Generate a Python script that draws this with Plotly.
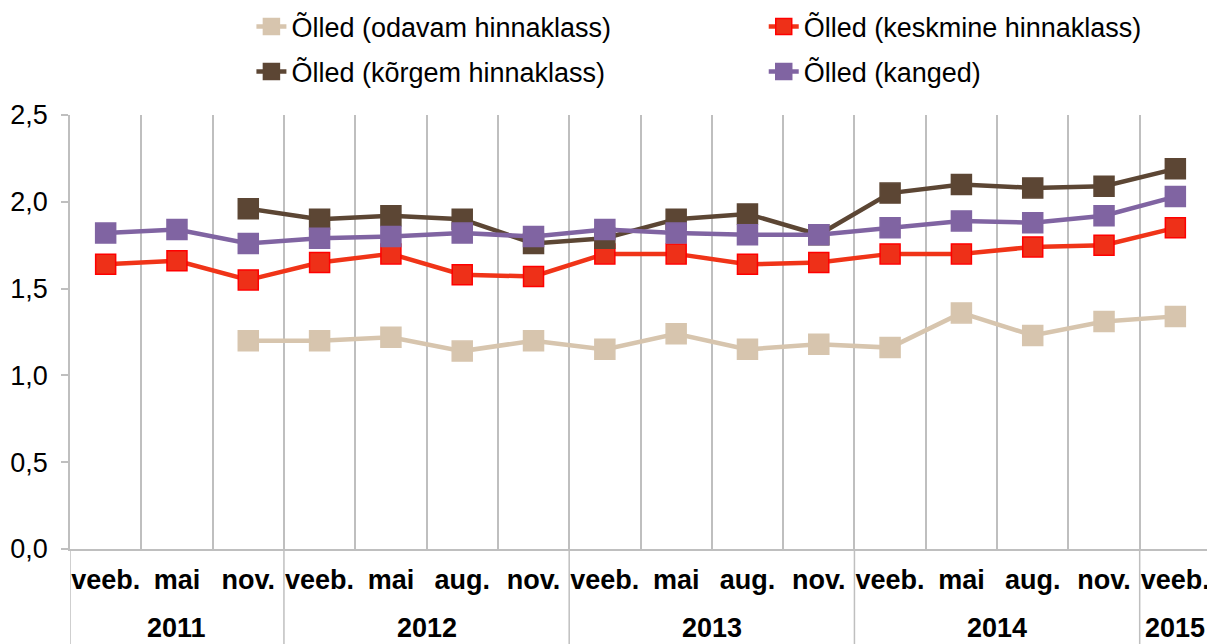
import plotly.graph_objects as go

years = ["2011", "2011", "2011",
         "2012", "2012", "2012", "2012",
         "2013", "2013", "2013", "2013",
         "2014", "2014", "2014", "2014",
         "2015"]
months = ["veeb.", "mai", "nov.",
          "veeb.", "mai", "aug.", "nov.",
          "veeb.", "mai", "aug.", "nov.",
          "veeb.", "mai", "aug.", "nov.",
          "veeb."]

odavam = [None, None, 1.20, 1.20, 1.22, 1.14, 1.20, 1.15, 1.24, 1.15, 1.18, 1.16, 1.36, 1.23, 1.31, 1.34]
keskmine = [1.64, 1.66, 1.55, 1.65, 1.70, 1.58, 1.57, 1.70, 1.70, 1.64, 1.65, 1.70, 1.70, 1.74, 1.75, 1.85]
korgem = [None, None, 1.96, 1.90, 1.92, 1.90, 1.76, 1.79, 1.90, 1.93, 1.81, 2.05, 2.10, 2.08, 2.09, 2.19]
kanged = [1.82, 1.84, 1.76, 1.79, 1.80, 1.82, 1.80, 1.84, 1.82, 1.81, 1.81, 1.85, 1.89, 1.88, 1.92, 2.03]

FONT = "Liberation Sans, Arial, sans-serif"
GRID = "#BFBFBF"

idx = list(range(len(months)))

# year groups: first/last category index of each year
groups = {}
for i, y in enumerate(years):
    groups.setdefault(y, [i, i])[1] = i

fig = go.Figure()


def add(name, vals, line_col, fill_col, edge_col, legend):
    fig.add_trace(go.Scatter(
        x=idx, y=vals, name=name, mode="lines+markers",
        line=dict(color=line_col, width=4.5),
        marker=dict(symbol="square", size=20, color=fill_col,
                    line=dict(color=edge_col, width=1.5)),
        legend=legend, showlegend=True,
    ))


add("Õlled (odavam hinnaklass)", odavam, "#D7C5AE", "#D7C5AE", "#D7C5AE", "legend")
add("Õlled (keskmine hinnaklass)", keskmine, "#F03418", "#EE3018", "#FF0000", "legend2")
add("Õlled (kõrgem hinnaklass)", korgem, "#5C4634", "#5C4634", "#5C4634", "legend3")
add("Õlled (kanged)", kanged, "#8064A2", "#8064A2", "#8064A2", "legend4")

# year labels and the separators that run down through the label area
for y, (a, b) in groups.items():
    fig.add_annotation(x=(a + b) / 2, y=-0.182, xref="x", yref="paper",
                       text=y, showarrow=False, yanchor="middle",
                       font=dict(family=FONT, size=27, color="black", weight="bold"))
    fig.add_shape(type="line", xref="x", yref="paper",
                  x0=a - 0.5, x1=a - 0.5, y0=0, y1=-0.25,
                  line=dict(color=GRID, width=1.5))

leg = dict(xanchor="left", yanchor="middle", bgcolor="rgba(0,0,0,0)",
           font=dict(family=FONT, size=27, color="black"))

# page body has an 8px margin, so the figure is 8px smaller than the window
fig.update_layout(
    width=1207, height=636,
    margin=dict(l=62, r=4, t=107, b=95, autoexpand=False),
    plot_bgcolor="white", paper_bgcolor="white",
    separators=", ",
    showlegend=True,
    font=dict(family=FONT, size=27, color="black"),
    legend=dict(leg, x=0.159, y=1.203),
    legend2=dict(leg, x=0.608, y=1.203),
    legend3=dict(leg, x=0.159, y=1.099),
    legend4=dict(leg, x=0.608, y=1.099),
    xaxis=dict(
        range=[-0.5, len(months) - 0.5],
        tickvals=idx, ticktext=months, tickangle=0,
        showgrid=False, zeroline=False, ticks="", ticklabelstandoff=6,
        minor=dict(tickvals=[i + 0.5 for i in idx[:-1]], showgrid=True,
                   gridcolor=GRID, gridwidth=1.5, ticks=""),
        showline=True, linecolor=GRID, linewidth=1.5,
        tickfont=dict(family=FONT, size=27, color="black", weight="bold"),
        automargin=False,
    ),
    yaxis=dict(
        range=[0, 2.5], dtick=0.5, tickformat=".1f",
        showgrid=False, zeroline=False,
        showline=True, linecolor=GRID, linewidth=1.5,
        ticks="outside", ticklen=7, tickcolor=GRID, tickwidth=1.5,
        ticklabelstandoff=8,
        tickfont=dict(family=FONT, size=27, color="black"),
        automargin=False,
    ),
)

fig.write_html("out.html")
